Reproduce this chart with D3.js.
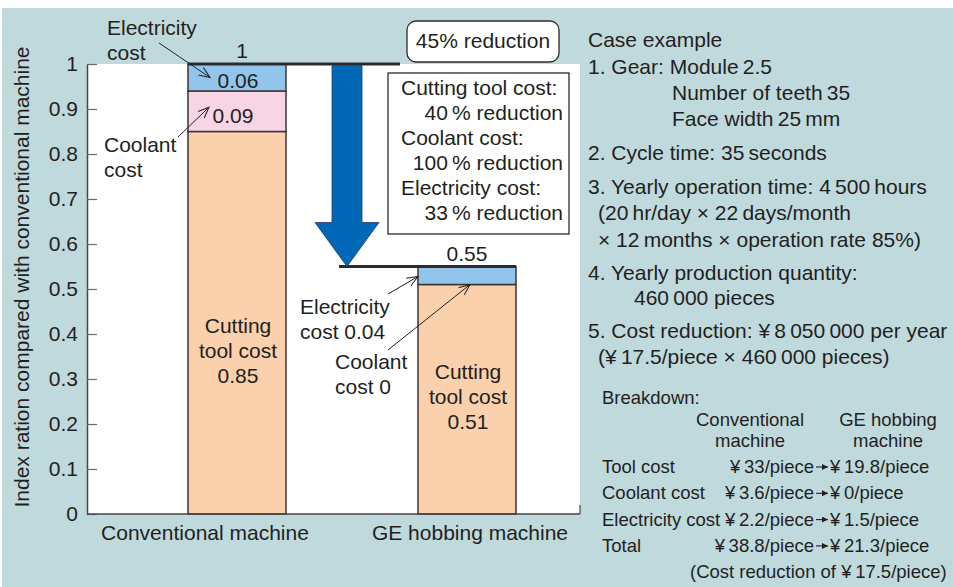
<!DOCTYPE html>
<html>
<head>
<meta charset="utf-8">
<script src="https://cdn.jsdelivr.net/npm/d3@7"></script>
<style>
  html, body { margin: 0; padding: 0; background: #fff; }
  svg { display: block; font-family: "Liberation Sans", Arial, Helvetica, sans-serif; }
  text { fill: #231f20; }
</style>
</head>
<body>
<div id="chart"></div>
<script>
// --- data ---
const machines = ["Conventional machine", "GE hobbing machine"];
const cuttingTool = [0.85, 0.51];
const coolant = [0.09, 0];
const electricity = [0.06, 0.04];
const totals = [1, 0.55];
const yTicks = [0, 0.1, 0.2, 0.3, 0.4, 0.5, 0.6, 0.7, 0.8, 0.9, 1];

const reductionLines = [
  ["Cutting tool cost:", false], ["40\u2009% reduction", true],
  ["Coolant cost:", false], ["100\u2009% reduction", true],
  ["Electricity cost:", false], ["33\u2009% reduction", true]
];

const caseLines = [
  ["Case example", 0],
  ["1. Gear: Module\u20092.5", 0],
  ["Number of teeth\u200935", 84],
  ["Face width\u200925\u2009mm", 84],
  ["2. Cycle time: 35\u2009seconds", 0],
  ["3. Yearly operation time: 4\u2009500\u2009hours", 0],
  ["(20\u2009hr/day \u00d7 22\u2009days/month", 10],
  ["\u00d7 12\u2009months \u00d7 operation rate 85%)", 10],
  ["4. Yearly production quantity:", 0],
  ["460\u2009000 pieces", 46],
  ["5. Cost reduction: \u00a5\u20098\u2009050\u2009000 per year", 0],
  ["(\u00a5\u200917.5/piece \u00d7 460\u2009000 pieces)", 10]
];
const caseBaselines = [47, 74, 100, 126, 160, 194, 220, 247, 280, 305, 338, 364];

const breakdownItems = ["Tool cost", "Coolant cost", "Electricity cost", "Total"];
const breakdownBefore = ["\u00a5\u200933/piece", "\u00a5\u20093.6/piece", "\u00a5\u20092.2/piece", "\u00a5\u200938.8/piece"];
const breakdownAfter = ["\u00a5\u200919.8/piece", "\u00a5\u20090/piece", "\u00a5\u20091.5/piece", "\u00a5\u200921.3/piece"];

const width = 953, height = 587;
const ink = "#231f20";
const teal = "#bfd9dd";
const fs = "21px";

const svg = d3.select("#chart").append("svg")
  .attr("width", width)
  .attr("height", height)
  .attr("viewBox", [0, 0, width, height]);

const defs = svg.append("defs");
defs.append("marker")
  .attr("id", "open-arrow")
  .attr("viewBox", "0 0 12 10")
  .attr("refX", 11).attr("refY", 5)
  .attr("markerWidth", 12).attr("markerHeight", 10)
  .attr("markerUnits", "userSpaceOnUse")
  .attr("orient", "auto")
  .append("path")
  .attr("d", "M0,0.5 L11,5 L0,9.5")
  .attr("fill", "none")
  .attr("stroke", ink)
  .attr("stroke-width", 1);
defs.append("marker")
  .attr("id", "solid-arrow")
  .attr("viewBox", "0 0 6 6")
  .attr("refX", 6).attr("refY", 3)
  .attr("markerWidth", 6).attr("markerHeight", 6)
  .attr("markerUnits", "userSpaceOnUse")
  .attr("orient", "auto")
  .append("path")
  .attr("d", "M0,0 L6,3 L0,6 Z")
  .attr("fill", ink);

// background
svg.append("rect").attr("width", width).attr("height", height).attr("fill", "#fff");
svg.append("rect").attr("x", 2).attr("y", 8).attr("width", width - 2).attr("height", height - 8).attr("fill", teal);

// plot area
const plotLeft = 87, plotRight = 580, plotTop = 64, plotBottom = 514;
svg.append("rect")
  .attr("x", plotLeft).attr("y", plotTop)
  .attr("width", plotRight - plotLeft).attr("height", plotBottom - plotTop)
  .attr("fill", "#fff");

const y = d3.scaleLinear().domain([0, 1]).range([plotBottom, plotTop]);
const x = d3.scaleBand().domain(machines).range([188, 516]).paddingInner(1 - 98 / 230);

// stacked bars
const rows = machines.map((m, i) => ({
  machine: m, cutting: cuttingTool[i], coolant: coolant[i], electricity: electricity[i]
}));
const keys = ["cutting", "coolant", "electricity"];
const color = d3.scaleOrdinal().domain(keys).range(["#fbd0ad", "#f8d5e4", "#92c5eb"]);
const series = d3.stack().keys(keys)(rows);

svg.append("g")
  .selectAll("g")
  .data(series)
  .join("g")
  .attr("fill", d => color(d.key))
  .selectAll("rect")
  .data(d => d.filter(s => s[1] - s[0] > 0))
  .join("rect")
  .attr("x", d => x(d.data.machine))
  .attr("y", d => y(d[1]))
  .attr("width", x.bandwidth())
  .attr("height", d => y(d[0]) - y(d[1]))
  .attr("stroke", "#3a3536")
  .attr("stroke-width", 1.5);

// y axis, ticks pointing inward
const yAxis = svg.append("g")
  .attr("transform", `translate(${plotLeft},0)`)
  .call(d3.axisLeft(y).tickValues(yTicks).tickFormat(d3.format("~g"))
    .tickSizeInner(-10).tickSizeOuter(0).tickPadding(9));
yAxis.select(".domain").attr("stroke", "#4a4546").attr("stroke-width", 1.5);
yAxis.selectAll(".tick line").attr("stroke", "#6d6869").attr("stroke-width", 1.2);
yAxis.selectAll(".tick text").attr("fill", ink).style("font-size", fs)
  .style("font-family", "'Liberation Sans', Arial, sans-serif");

// x baseline and frame corner
svg.append("line")
  .attr("x1", plotLeft).attr("x2", plotRight)
  .attr("y1", y(0)).attr("y2", y(0))
  .attr("stroke", "#4a4546").attr("stroke-width", 1.5);
svg.append("line")
  .attr("x1", plotRight).attr("x2", plotRight)
  .attr("y1", y(0) - 9).attr("y2", y(0))
  .attr("stroke", "#4a4546").attr("stroke-width", 1.2);

// x labels
const xLabelShift = [-32, 3];
svg.append("g")
  .selectAll("text")
  .data(machines)
  .join("text")
  .attr("x", (d, i) => x(d) + x.bandwidth() / 2 + xLabelShift[i])
  .attr("y", 540)
  .attr("text-anchor", "middle")
  .style("font-size", fs)
  .text(d => d);

// y axis title
svg.append("text")
  .attr("transform", `translate(29,277) rotate(-90)`)
  .attr("text-anchor", "middle")
  .style("font-size", "21px")
  .text("Index ration compared with conventional machine");

// total level lines
svg.append("line")
  .attr("x1", x(machines[0])).attr("x2", 400)
  .attr("y1", y(totals[0])).attr("y2", y(totals[0]))
  .attr("stroke", "#2e2a2b").attr("stroke-width", 3);
svg.append("line")
  .attr("x1", 339).attr("x2", x(machines[1]) + x.bandwidth())
  .attr("y1", y(totals[1])).attr("y2", y(totals[1]))
  .attr("stroke", "#2e2a2b").attr("stroke-width", 3);

svg.append("g")
  .selectAll("text")
  .data(totals)
  .join("text")
  .attr("x", (d, i) => x(machines[i]) + x.bandwidth() / 2 + [5, 0][i])
  .attr("y", d => y(d) - 6)
  .attr("text-anchor", "middle")
  .style("font-size", fs)
  .text(d => d);

// big blue arrow from 1 down to 0.55
const ax = 347, shaftHalf = 15, headHalf = 32, headLen = 44;
const arrowTop = y(totals[0]) + 1.5, arrowTip = y(totals[1]);
svg.append("path")
  .attr("d", `M${ax - shaftHalf},${arrowTop} L${ax + shaftHalf},${arrowTop} L${ax + shaftHalf},${arrowTip - headLen}
    L${ax + headHalf},${arrowTip - headLen} L${ax},${arrowTip} L${ax - headHalf},${arrowTip - headLen}
    L${ax - shaftHalf},${arrowTip - headLen} Z`)
  .attr("fill", "#0068b7")
  .attr("stroke", "#1d3d63")
  .attr("stroke-width", 0.8);

// "45% reduction" rounded box
svg.append("rect")
  .attr("x", 407).attr("y", 21).attr("width", 152).attr("height", 41).attr("rx", 9)
  .attr("fill", "#fff").attr("stroke", "#2e2a2b").attr("stroke-width", 1.3);
svg.append("text")
  .attr("x", 483).attr("y", 48).attr("text-anchor", "middle")
  .style("font-size", fs)
  .text(`${Math.round((1 - totals[1]) * 100)}% reduction`);

// breakdown of reductions box
svg.append("rect")
  .attr("x", 388).attr("y", 73).attr("width", 181).attr("height", 161)
  .attr("fill", "#fff").attr("stroke", "#2e2a2b").attr("stroke-width", 1.3);
svg.append("g")
  .selectAll("text")
  .data(reductionLines)
  .join("text")
  .attr("x", d => d[1] ? 563 : 401)
  .attr("y", (d, i) => 95 + i * 25)
  .attr("text-anchor", d => d[1] ? "end" : "start")
  .style("font-size", fs)
  .text(d => d[0]);

// segment values on conventional bar
const cx0 = x(machines[0]) + x.bandwidth() / 2;
svg.append("text").attr("x", cx0 + 1).attr("y", 88).attr("text-anchor", "middle")
  .style("font-size", fs).text(d3.format(".2f")(electricity[0]));
svg.append("text").attr("x", cx0 - 4).attr("y", 123).attr("text-anchor", "middle")
  .style("font-size", fs).text(d3.format(".2f")(coolant[0]));
svg.append("g").selectAll("text")
  .data(["Cutting", "tool cost", d3.format(".2f")(cuttingTool[0])])
  .join("text")
  .attr("x", cx0 + 1).attr("y", (d, i) => 333 + i * 25)
  .attr("text-anchor", "middle").style("font-size", fs).text(d => d);

// segment values on GE bar
const cx1 = x(machines[1]) + x.bandwidth() / 2;
svg.append("g").selectAll("text")
  .data(["Cutting", "tool cost", d3.format(".2f")(cuttingTool[1])])
  .join("text")
  .attr("x", cx1 + 1).attr("y", (d, i) => 379 + i * 25)
  .attr("text-anchor", "middle").style("font-size", fs).text(d => d);

// callout labels
const callouts = [
  { lines: ["Electricity", "cost"], x: 107, y: 35 },
  { lines: ["Coolant", "cost"], x: 104, y: 152 },
  { lines: ["Electricity", `cost ${electricity[1]}`], x: 300, y: 314 },
  { lines: ["Coolant", `cost ${coolant[1]}`], x: 335, y: 369 }
];
callouts.forEach(c => {
  svg.append("g").selectAll("text")
    .data(c.lines)
    .join("text")
    .attr("x", c.x).attr("y", (d, i) => c.y + i * 25)
    .style("font-size", fs)
    .text(d => d);
});

const leaders = [
  [159, 43, x(machines[0]) + 22, y(1 - electricity[0] / 2)],
  [178, 137, x(machines[0]) + 21, y(cuttingTool[0] + coolant[0] * 0.6)],
  [388, 294, x(machines[1]), y(totals[1]) + 10],
  [388, 350, x(machines[1]) + 52, y(cuttingTool[1])]
];
svg.append("g").selectAll("line")
  .data(leaders)
  .join("line")
  .attr("x1", d => d[0]).attr("y1", d => d[1])
  .attr("x2", d => d[2]).attr("y2", d => d[3])
  .attr("stroke", ink).attr("stroke-width", 1)
  .attr("marker-end", "url(#open-arrow)");

// case example panel
svg.append("g").selectAll("text")
  .data(caseLines)
  .join("text")
  .attr("x", d => 588 + d[1])
  .attr("y", (d, i) => caseBaselines[i])
  .style("font-size", fs)
  .text(d => d[0]);

// breakdown table
const bd = svg.append("g").style("font-size", "18.5px");
bd.append("text").attr("x", 602).attr("y", 404).text("Breakdown:");
[["Conventional", "machine", 750], ["GE hobbing", "machine", 888]].forEach(h => {
  bd.append("text").attr("x", h[2]).attr("y", 426).attr("text-anchor", "middle").text(h[0]);
  bd.append("text").attr("x", h[2]).attr("y", 447).attr("text-anchor", "middle").text(h[1]);
});
breakdownItems.forEach((item, i) => {
  const by = 473 + i * 26.3;
  bd.append("text").attr("x", 814).attr("y", by).attr("text-anchor", "end").text(breakdownBefore[i]);
  bd.append("text").attr("x", 602).attr("y", by).text(item);
  bd.append("line")
    .attr("x1", 816).attr("x2", 828)
    .attr("y1", by - 6).attr("y2", by - 6)
    .attr("stroke", ink).attr("stroke-width", 1.1)
    .attr("marker-end", "url(#solid-arrow)");
  bd.append("text").attr("x", 830).attr("y", by).text(breakdownAfter[i]);
});
bd.append("text").attr("x", 690).attr("y", 578).text("(Cost reduction of \u00a5\u200917.5/piece)");
</script>
</body>
</html>
